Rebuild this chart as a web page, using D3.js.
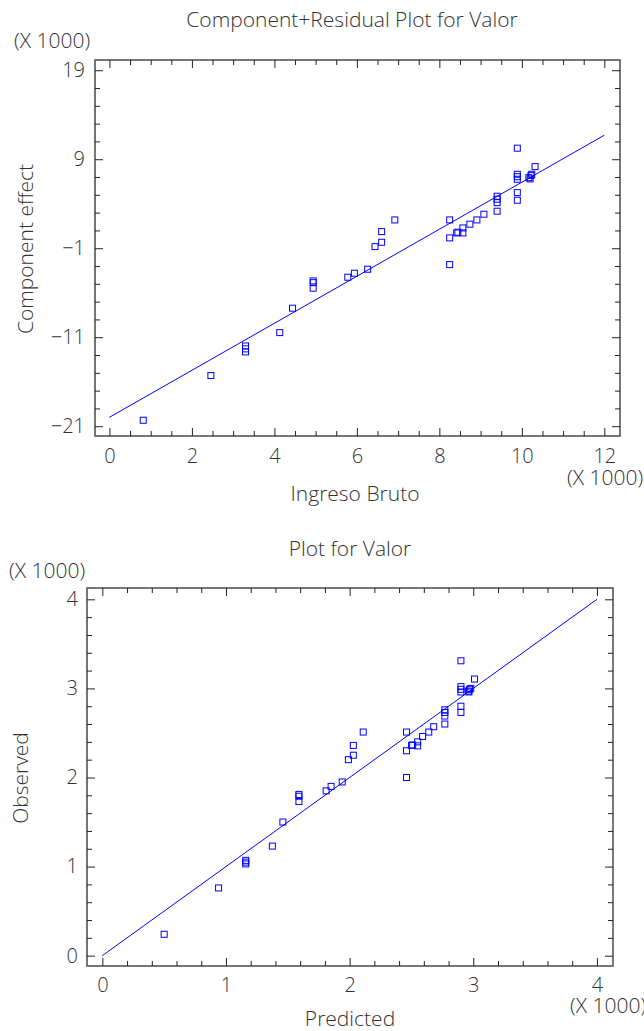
<!DOCTYPE html>
<html>
<head>
<meta charset="utf-8">
<script src="https://cdn.jsdelivr.net/npm/d3@7"></script>
<style>
body { margin: 0; background: #fff; }
text { font-family: "Open Sans", Lato, sans-serif; font-weight: 300; fill: #333; }
</style>
</head>
<body>
<script>
// grafico de arriba: Component+Residual
var ingresoBruto = [0.82, 2.46, 3.30, 3.30, 3.30, 4.13, 4.44, 4.94, 4.94, 4.94, 5.78, 5.94, 6.26, 6.44, 6.60, 6.60, 6.92,
    8.25, 8.25, 8.25, 8.42, 8.45, 8.57, 8.57, 8.74, 8.91, 9.08, 9.40, 9.40, 9.40, 9.40,
    9.89, 9.89, 9.89, 9.89, 9.89, 9.89, 10.17, 10.22, 10.24, 10.20, 10.32];
var efectoComp = [-20.33, -15.31, -11.98, -12.31, -12.65, -10.48, -7.74, -4.67, -4.87, -5.49, -4.26, -3.81, -3.36, -0.82, 0.87, -0.33, 2.18,
    2.18, 0.16, -2.84, 0.72, 0.80, 1.28, 0.72, 1.70, 2.18, 2.82, 4.84, 4.51, 4.12, 3.16,
    10.24, 7.31, 7.04, 6.75, 5.25, 4.39, 6.93, 7.16, 7.31, 6.79, 8.17];
var lineaArribaX = [0, 12];
var lineaArribaY = [-20, 11.7];
var ticksXArriba = [0, 2, 4, 6, 8, 10, 12];
var ticksYArriba = [19, 9, -1, -11, -21];

// grafico de abajo: Observed vs Predicted
var predicho = [0.50, 0.94, 1.16, 1.16, 1.16, 1.375, 1.46, 1.59, 1.59, 1.59, 1.81, 1.85, 1.94, 1.99, 2.03, 2.03, 2.11,
    2.46, 2.46, 2.46, 2.50, 2.51, 2.55, 2.55, 2.59, 2.64, 2.68, 2.77, 2.77, 2.77, 2.77,
    2.90, 2.90, 2.90, 2.90, 2.90, 2.90, 2.96, 2.97, 2.98, 2.965, 3.01];
var observado = [0.24, 0.76, 1.07, 1.05, 1.03, 1.23, 1.50, 1.81, 1.79, 1.73, 1.85, 1.90, 1.95, 2.20, 2.36, 2.25, 2.51,
    2.51, 2.30, 2.00, 2.36, 2.365, 2.40, 2.355, 2.46, 2.51, 2.57, 2.76, 2.73, 2.69, 2.60,
    3.31, 3.02, 2.99, 2.96, 2.80, 2.73, 2.97, 2.99, 3.00, 2.96, 3.105];
var lineaAbajoX = [0, 4];
var lineaAbajoY = [0, 4];
var ticksXAbajo = [0, 1, 2, 3, 4];
var ticksYAbajo = [0, 1, 2, 3, 4];

var svg = d3.select("body")
    .append("svg")
    .attr("width", 644)
    .attr("height", 1031);

var TAM = 21;      // letra de titulos
var TAM_TICK = 20; // letra de los ticks

function sinDominio(g) {
    g.select(".domain").remove();
}

function panel(c) {
    var x = d3.scaleLinear().domain(c.xDom).range([c.l, c.r]);
    var y = d3.scaleLinear().domain(c.yDom).range([c.b, c.t]);

    var g = svg.append("g");

    g.append("rect")
        .attr("x", c.l).attr("y", c.t)
        .attr("width", c.r - c.l).attr("height", c.b - c.t)
        .attr("fill", "none")
        .attr("stroke", "#555")
        .attr("stroke-width", 1.6);

    function eje(gen, tx, ty, vals, largo, etiq, pad) {
        var a = gen.tickValues(vals).tickSizeInner(-largo).tickSizeOuter(0).tickPadding(pad || 0);
        if (!etiq) a.tickFormat("");
        else a.tickFormat(d3.format("d"));
        g.append("g")
            .attr("transform", "translate(" + tx + "," + ty + ")")
            .style("color", "#222")
            .call(a)
            .call(sinDominio)
            .attr("font-size", TAM_TICK)
            .attr("font-family", null);
    }

    // ticks mayores
    eje(d3.axisBottom(x), 0, c.b, c.xMajor, 8, true, c.padX);
    eje(d3.axisTop(x), 0, c.t, c.xMajor, 8, false);
    eje(d3.axisLeft(y), c.l, 0, c.yMajor, 8, true, c.padY);
    eje(d3.axisRight(y), c.r, 0, c.yMajor, 8, false);
    // ticks menores
    eje(d3.axisBottom(x), 0, c.b, c.xMinor, 5, false);
    eje(d3.axisTop(x), 0, c.t, c.xMinor, 5, false);
    eje(d3.axisLeft(y), c.l, 0, c.yMinor, 5, false);
    eje(d3.axisRight(y), c.r, 0, c.yMinor, 5, false);

    g.append("line")
        .attr("x1", x(c.lx[0])).attr("y1", y(c.ly[0]))
        .attr("x2", x(c.lx[1])).attr("y2", y(c.ly[1]))
        .attr("stroke", "blue")
        .attr("stroke-width", 1);

    g.selectAll("rect.pt")
        .data(c.xs)
        .enter()
        .append("rect")
        .attr("class", "pt")
        .attr("x", function(d) { return x(d) - 3; })
        .attr("y", function(d, i) { return y(c.ys[i]) - 3; })
        .attr("width", 6)
        .attr("height", 6)
        .attr("fill", "none")
        .attr("stroke", "blue")
        .attr("stroke-width", 1);

    // textos
    g.append("text").attr("x", c.titulo[1]).attr("y", c.titulo[2])
        .attr("text-anchor", "middle").attr("font-size", TAM).text(c.titulo[0]);
    g.append("text").attr("x", c.escY[0]).attr("y", c.escY[1])
        .attr("font-size", TAM).text("(X 1000)");
    g.append("text").attr("x", c.escX[0]).attr("y", c.escX[1])
        .attr("font-size", TAM).text("(X 1000)");
    g.append("text").attr("x", c.nomX[1]).attr("y", c.nomX[2])
        .attr("text-anchor", "middle").attr("font-size", TAM).text(c.nomX[0]);
    g.append("text")
        .attr("transform", "translate(" + c.nomY[1] + "," + c.nomY[2] + ") rotate(-90)")
        .attr("text-anchor", "middle").attr("font-size", TAM).text(c.nomY[0]);
}

panel({
    l: 95, r: 620, t: 60, b: 436,
    xDom: [-0.35, 12.38], yDom: [-22.1, 20.15],
    xMajor: ticksXArriba, xMinor: d3.range(0, 12.01, 0.5).filter(function(v) { return v % 2 != 0; }),
    yMajor: ticksYArriba, yMinor: d3.range(-21, 19.01, 2).filter(function(v) { return (v + 1) % 10 != 0; }),
    padX: 13, padY: 10,
    xs: ingresoBruto, ys: efectoComp,
    lx: lineaArribaX, ly: lineaArribaY,
    titulo: ["Component+Residual Plot for Valor", 352, 27],
    escY: [14, 48], escX: [567, 485],
    nomX: ["Ingreso Bruto", 355, 501],
    nomY: ["Component effect", 33, 249]
});

panel({
    l: 87, r: 613, t: 588, b: 966,
    xDom: [-0.124, 4.13], yDom: [-0.116, 4.127],
    xMajor: ticksXAbajo, xMinor: d3.range(0, 4.01, 0.2).filter(function(v) { return Math.abs(v - Math.round(v)) > 0.01; }),
    yMajor: ticksYAbajo, yMinor: d3.range(0, 4.01, 0.2).filter(function(v) { return Math.abs(v - Math.round(v)) > 0.01; }),
    padX: 12, padY: 9,
    xs: predicho, ys: observado,
    lx: lineaAbajoX, ly: lineaAbajoY,
    titulo: ["Plot for Valor", 350, 556],
    escY: [9, 578], escX: [570, 1013],
    nomX: ["Predicted", 350, 1026],
    nomY: ["Observed", 28, 778]
});
</script>
</body>
</html>
